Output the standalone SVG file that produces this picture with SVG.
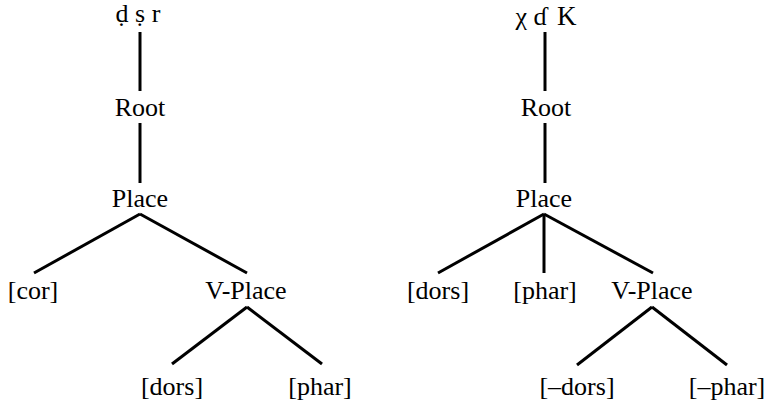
<svg xmlns="http://www.w3.org/2000/svg" width="767" height="403" viewBox="0 0 767 403">
<style>
text{font-family:"Liberation Serif","Times New Roman",serif;font-size:26px;fill:#000;text-anchor:middle}
.e{stroke:#000;stroke-width:3;fill:none}
</style>
<rect width="767" height="403" fill="#fff"/>
<g id="connectors">
<line class="e" x1="140" y1="32" x2="140" y2="91"/>
<line class="e" x1="140" y1="123" x2="140" y2="183"/>
<line class="e" x1="140" y1="214" x2="34" y2="273"/>
<line class="e" x1="140" y1="214" x2="247" y2="273"/>
<line class="e" x1="247" y1="307" x2="172" y2="364"/>
<line class="e" x1="247" y1="307" x2="322" y2="364"/>
<line class="e" x1="545" y1="32" x2="545" y2="91"/>
<line class="e" x1="545" y1="123" x2="545" y2="183"/>
<line class="e" x1="544" y1="214" x2="438" y2="273"/>
<line class="e" x1="544" y1="214" x2="544" y2="273"/>
<line class="e" x1="544" y1="214" x2="653" y2="273"/>
<line class="e" x1="652" y1="307" x2="577" y2="365"/>
<line class="e" x1="652" y1="307" x2="727" y2="365"/>
</g>
<g id="top1"><text x="138" y="22">ḍ ṣ r</text></g>
<g id="root1"><text x="140" y="116">Root</text></g>
<g id="place1"><text x="140" y="207">Place</text></g>
<g id="cor1"><text x="33" y="299">[cor]</text></g>
<g id="vplace1"><text x="246" y="299">V-Place</text></g>
<g id="dors1"><text x="172" y="395">[dors]</text></g>
<g id="phar1"><text x="320" y="395">[phar]</text></g>
<g id="top2"><text x="546" y="25">χ ɗ <tspan dx="4" font-size="27">K</tspan></text></g>
<g id="root2"><text x="546" y="116">Root</text></g>
<g id="place2"><text x="544" y="207">Place</text></g>
<g id="dors2"><text x="438" y="299">[dors]</text></g>
<g id="phar2"><text x="545" y="299">[phar]</text></g>
<g id="vplace2"><text x="652" y="299">V-Place</text></g>
<g id="mdors2"><text x="577" y="395">[–dors]</text></g>
<g id="mphar2"><text x="727" y="395">[–phar]</text></g>
</svg>
